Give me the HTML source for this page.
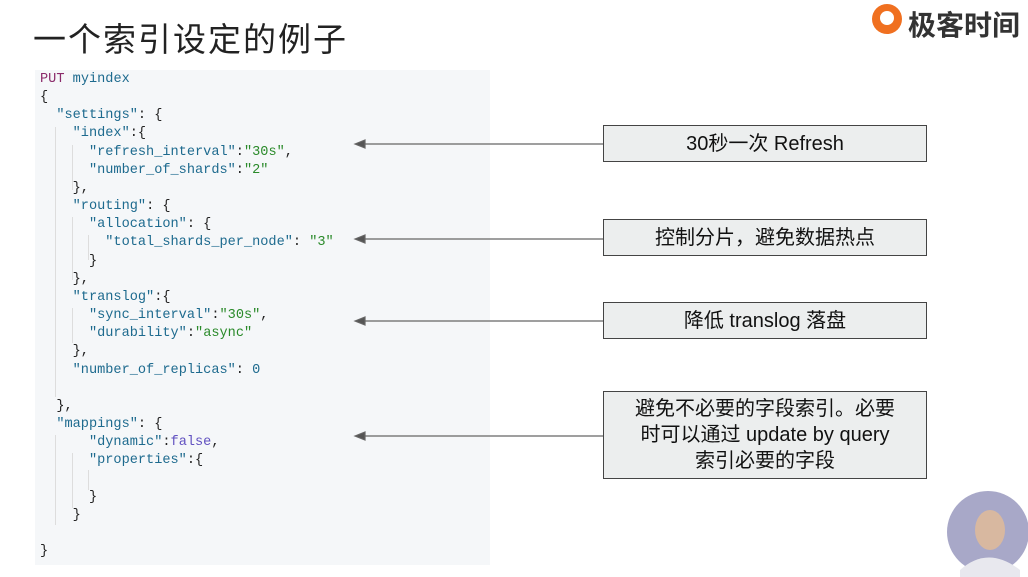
<!DOCTYPE html>
<html><head><meta charset="utf-8"><style>
body{margin:0;width:1028px;height:577px;background:#fff;position:relative;overflow:hidden;font-family:"Liberation Sans","Noto Sans CJK SC",sans-serif}
.t{position:absolute;left:33px;top:13px;font-size:33px;color:#222;letter-spacing:2px}
.code{position:absolute;left:35px;top:70px;width:455px;height:495px;background:#f5f7f9}
.l{position:absolute;font-family:"Liberation Mono","DejaVu Sans Mono",monospace;font-size:13.6px;white-space:pre;line-height:18.15px;color:#222}
.k{color:#1d6a8e}.s{color:#2a8a2a}.p{color:#8a2a6a}.b{color:#6050c0}
.g{position:absolute;width:1px;background:#ddd}
.box{position:absolute;left:603px;width:322px;background:#eceeee;border:1.5px solid #444;font-size:20px;color:#111;text-align:center;display:flex;align-items:center;justify-content:center;line-height:26px}
</style></head><body>
<div class="t">一个索引设定的例子</div>
<div style="position:absolute;left:872px;top:4px;width:30px;height:30px;border-radius:50%;background:#f07020"></div>
<div style="position:absolute;left:880px;top:11px;width:14px;height:14px;border-radius:50%;background:#fff"></div>
<div style="position:absolute;left:908px;top:4px;font-size:28px;color:#333;font-weight:bold">极客时间</div>
<div class="code"></div>
<div class="g" style="left:55px;top:127px;height:270px"></div>
<div class="g" style="left:72px;top:145px;height:45px"></div>
<div class="g" style="left:72px;top:217px;height:63px"></div>
<div class="g" style="left:88px;top:235px;height:25px"></div>
<div class="g" style="left:72px;top:308px;height:35px"></div>
<div class="g" style="left:55px;top:435px;height:90px"></div>
<div class="g" style="left:72px;top:453px;height:55px"></div>
<div class="g" style="left:88px;top:470px;height:20px"></div>
<div class="l" style="left:40px;top:71px"><span class="p">PUT</span> <span class="k">myindex</span>
{
  <span class="k">"settings"</span>: {
    <span class="k">"index"</span>:{
      <span class="k">"refresh_interval"</span>:<span class="s">"30s"</span>,
      <span class="k">"number_of_shards"</span>:<span class="s">"2"</span>
    },
    <span class="k">"routing"</span>: {
      <span class="k">"allocation"</span>: {
        <span class="k">"total_shards_per_node"</span>: <span class="s">"3"</span>
      }
    },
    <span class="k">"translog"</span>:{
      <span class="k">"sync_interval"</span>:<span class="s">"30s"</span>,
      <span class="k">"durability"</span>:<span class="s">"async"</span>
    },
    <span class="k">"number_of_replicas"</span>: <span class="k">0</span>

  },
  <span class="k">"mappings"</span>: {
      <span class="k">"dynamic"</span>:<span class="b">false</span>,
      <span class="k">"properties"</span>:{

      }
    }

}</div>
<svg style="position:absolute;left:0;top:0" width="1028" height="577">
<g stroke="#666" stroke-width="1.2" fill="#555">
<line x1="362" y1="144" x2="603" y2="144"/><polygon points="355,144 365,140 365,148"/>
<line x1="362" y1="239" x2="603" y2="239"/><polygon points="355,239 365,235 365,243"/>
<line x1="362" y1="321" x2="603" y2="321"/><polygon points="355,321 365,317 365,325"/>
<line x1="362" y1="436" x2="603" y2="436"/><polygon points="355,436 365,432 365,440"/>
</g>
<circle cx="988" cy="532" r="41" fill="#a8a8c8"/>
<ellipse cx="990" cy="530" rx="15" ry="20" fill="#d8b8a0"/>
<path d="M960 570 Q988 545 1020 570 L1020 577 L960 577Z" fill="#e8e8ee"/>
</svg>
<div class="box" style="top:125px;height:35px">30秒一次 Refresh</div>
<div class="box" style="top:219px;height:35px">控制分片，避免数据热点</div>
<div class="box" style="top:302px;height:35px">降低 translog 落盘</div>
<div class="box" style="top:391px;height:86px">避免不必要的字段索引。必要<br>时可以通过 update by query<br>索引必要的字段</div>
</body></html>
